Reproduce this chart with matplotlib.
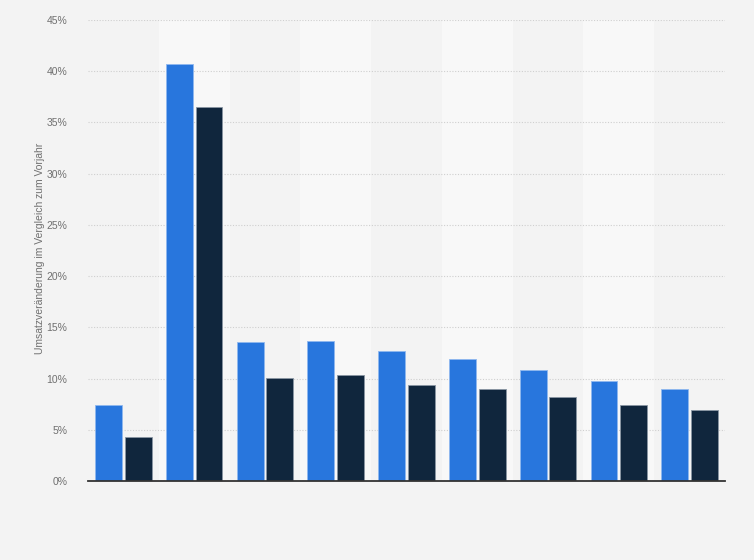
import numpy as np
import matplotlib
matplotlib.use("Agg")
import matplotlib.pyplot as plt

plt.rcParams['font.family'] = ['Liberation Sans', 'DejaVu Sans']

# values (no category labels shown)
groups = np.arange(9)
series_a = [7.4, 40.7, 13.6, 13.7, 12.7, 11.9, 10.8, 9.8, 9.0]
series_b = [4.3, 36.5, 10.1, 10.3, 9.4, 9.0, 8.2, 7.4, 6.9]
yticks = [0, 5, 10, 15, 20, 25, 30, 35, 40, 45]

blue = "#2876dd"
dark = "#10263d"
bg = "#f3f3f3"

fig = plt.figure(figsize=(7.54, 5.6), dpi=100, facecolor=bg)
ax = fig.add_axes([88/754, 1-481/560, (725-88)/754, (481-20)/560])
ax.set_facecolor(bg)

# alternating lighter column bands
for g in groups:
    if g % 2 == 1:
        ax.axvspan(g - 0.5, g + 0.5, color="#f8f8f8", zorder=0, lw=0)

w = 0.38
off = 0.21
ax.bar(groups - off, series_a, width=w, color=blue, edgecolor="#8fb8ef", linewidth=0.6, zorder=3)
ax.bar(groups + off, series_b, width=w, color=dark, edgecolor="#8a96a3", linewidth=0.6, zorder=3)

ax.set_xlim(-0.5, 8.5)
ax.set_ylim(0, 45)
ax.set_yticks(yticks)
ax.set_yticklabels(["{}%".format(t) for t in yticks])
ax.set_xticks([])
ax.tick_params(axis="y", length=0, pad=15, labelsize=7.5, labelcolor="#707070")
for sp in ["top", "right", "left"]:
    ax.spines[sp].set_visible(False)
ax.spines["bottom"].set_color("#333333")
ax.spines["bottom"].set_linewidth(1.3)
ax.spines["bottom"].set_zorder(4)
ax.yaxis.grid(True, linestyle=(0, (1, 1.5)), color="#cfcfcf", linewidth=0.8, zorder=1)
ax.set_axisbelow(True)

fig.text(40/754, 1-248/560, "Umsatzveränderung im Vergleich zum Vorjahr",
         rotation=90, ha="center", va="center", fontsize=7.5, color="#707070")

fig.savefig("out.png", dpi=100, facecolor=bg)
